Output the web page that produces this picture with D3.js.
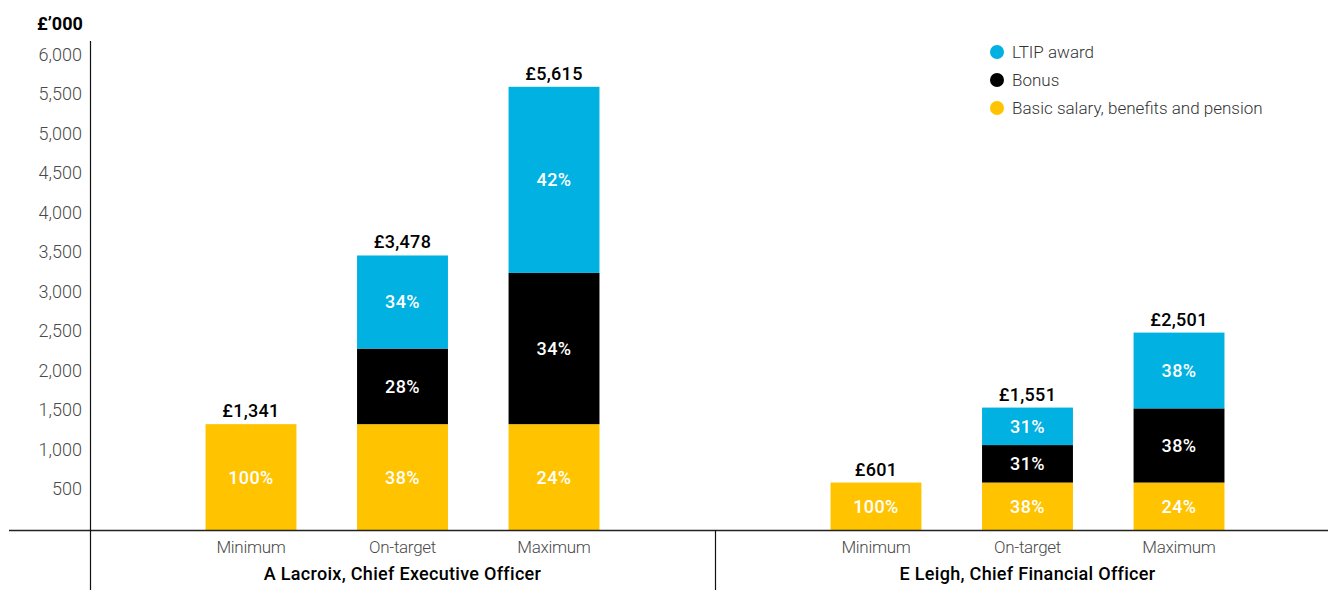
<!DOCTYPE html>
<html>
<head>
<meta charset="utf-8">
<script src="https://cdn.jsdelivr.net/npm/d3@7/dist/d3.min.js"></script>
<style>
  html, body { margin: 0; padding: 0; background: #fff; }
  svg { display: block; font-family: Roboto, "Noto Sans", sans-serif; }
</style>
</head>
<body>
<svg id="chart" width="1328" height="600"></svg>
<script>
// Remuneration scenarios per executive (£'000)
const executives = ["A Lacroix, Chief Executive Officer", "E Leigh, Chief Financial Officer"];
const scenarios = ["Minimum", "On-target", "Maximum"];
const seriesKeys = ["salary", "bonus", "ltip"];
const seriesNames = ["Basic salary, benefits and pension", "Bonus", "LTIP award"];
const seriesColors = ["#ffc300", "#000000", "#00b1e1"];

// Values per scenario [Minimum, On-target, Maximum]
const ceoSalary = [1341, 1341, 1341];
const ceoBonus  = [0, 958, 1916];
const ceoLtip   = [0, 1179, 2358];
const cfoSalary = [601, 601, 601];
const cfoBonus  = [0, 475, 940];
const cfoLtip   = [0, 475, 960];

// Percentage labels per segment
const ceoPct = [["100%", null, null], ["38%", "28%", "34%"], ["24%", "34%", "42%"]];
const cfoPct = [["100%", null, null], ["38%", "31%", "31%"], ["24%", "38%", "38%"]];

const yTicks = [500, 1000, 1500, 2000, 2500, 3000, 3500, 4000, 4500, 5000, 5500, 6000];

const rows = [];
[[ceoSalary, ceoBonus, ceoLtip, ceoPct], [cfoSalary, cfoBonus, cfoLtip, cfoPct]].forEach((d, gi) => {
  scenarios.forEach((s, si) => {
    rows.push({
      exec: executives[gi], scenario: s,
      salary: d[0][si], bonus: d[1][si], ltip: d[2][si],
      pct: d[3][si]
    });
  });
});

const svg = d3.select("#chart");
const x0 = 90, x1 = 1340, yBase = 530;

const y = d3.scaleLinear().domain([0, 6000]).range([yBase, yBase - 6000 * 0.07893]);

const xGroup = d3.scaleBand().domain(executives).range([x0, x1]).padding(0);
const xInner = d3.scaleBand().domain(scenarios).range([0, xGroup.bandwidth()])
  .paddingInner(0.4).paddingOuter(0.7625);

const stack = d3.stack().keys(seriesKeys);
const stacked = stack(rows);

// Y axis tick labels
const yAxis = d3.axisLeft(y).tickValues(yTicks).tickSize(0).tickPadding(8)
  .tickFormat(d3.format(","));
const gy = svg.append("g").attr("transform", `translate(${x0},0)`).call(yAxis);
gy.select(".domain").remove();
gy.selectAll("text")
  .attr("font-family", "Roboto, sans-serif")
  .attr("font-size", 18).attr("font-weight", 300).attr("fill", "#4a4a4a")
  .attr("dy", "0.22em");

svg.append("text").attr("x", 37).attr("y", 30)
  .attr("font-size", 18).attr("font-weight", 700).attr("fill", "#000")
  .text("£’000");

// Stacked bars
const groups = svg.append("g");
stacked.forEach((layer, li) => {
  groups.append("g").attr("fill", seriesColors[li])
    .selectAll("rect").data(layer).join("rect")
    .attr("x", d => xGroup(d.data.exec) + xInner(d.data.scenario))
    .attr("width", xInner.bandwidth())
    .attr("y", d => y(d[1]))
    .attr("height", d => y(d[0]) - y(d[1]));
});

// Segment percentage labels
stacked.forEach((layer, li) => {
  svg.append("g").selectAll("text")
    .data(layer.filter(d => d.data.pct[li]))
    .join("text")
    .attr("x", d => xGroup(d.data.exec) + xInner(d.data.scenario) + xInner.bandwidth() / 2)
    .attr("y", d => (y(d[0]) + y(d[1])) / 2)
    .attr("dy", "0.36em")
    .attr("text-anchor", "middle")
    .attr("font-size", 18).attr("font-weight", 500).attr("fill", "#fff")
    .attr("letter-spacing", 0.4)
    .text(d => d.data.pct[li]);
});

// Total labels above bars
svg.append("g").selectAll("text").data(rows).join("text")
  .attr("x", d => xGroup(d.exec) + xInner(d.scenario) + xInner.bandwidth() / 2)
  .attr("y", d => y(d.salary + d.bonus + d.ltip) - 7)
  .attr("text-anchor", "middle")
  .attr("font-size", 18).attr("font-weight", 500).attr("fill", "#000")
  .attr("letter-spacing", 0.3)
  .text(d => "£" + d3.format(",")(d.salary + d.bonus + d.ltip));

// Axis lines
svg.append("line").attr("x1", 9).attr("x2", 1328).attr("y1", yBase + 0.5).attr("y2", yBase + 0.5)
  .attr("stroke", "#222").attr("stroke-width", 1.3);
svg.append("line").attr("x1", x0 + 0.5).attr("x2", x0 + 0.5).attr("y1", 41).attr("y2", 590)
  .attr("stroke", "#111").attr("stroke-width", 1.2);
svg.append("line").attr("x1", xGroup(executives[1]) + 0.5).attr("x2", xGroup(executives[1]) + 0.5)
  .attr("y1", yBase).attr("y2", 590).attr("stroke", "#111").attr("stroke-width", 1.2);

// Category labels and executive names
executives.forEach(ex => {
  svg.append("g").selectAll("text").data(scenarios).join("text")
    .attr("x", s => xGroup(ex) + xInner(s) + xInner.bandwidth() / 2)
    .attr("y", 553)
    .attr("text-anchor", "middle")
    .attr("font-size", 17).attr("font-weight", 300).attr("fill", "#4a4a4a")
    .attr("letter-spacing", -0.3)
    .text(s => s);
  svg.append("text")
    .attr("x", xGroup(ex) + xGroup.bandwidth() / 2)
    .attr("y", 580)
    .attr("text-anchor", "middle")
    .attr("font-size", 18).attr("font-weight", 500).attr("fill", "#000")
    .attr("letter-spacing", 0.3)
    .text(ex);
});

// Legend
const legendOrder = [2, 1, 0];
const legend = svg.append("g").attr("transform", "translate(997,52)");
legendOrder.forEach((k, i) => {
  const g = legend.append("g").attr("transform", `translate(0,${i * 28})`);
  g.append("circle").attr("r", 7).attr("fill", seriesColors[k]);
  g.append("text").attr("x", 15).attr("dy", "0.36em")
    .attr("font-size", 17).attr("font-weight", 300).attr("fill", "#333")
    .text(seriesNames[k]);
});
</script>
</body>
</html>
